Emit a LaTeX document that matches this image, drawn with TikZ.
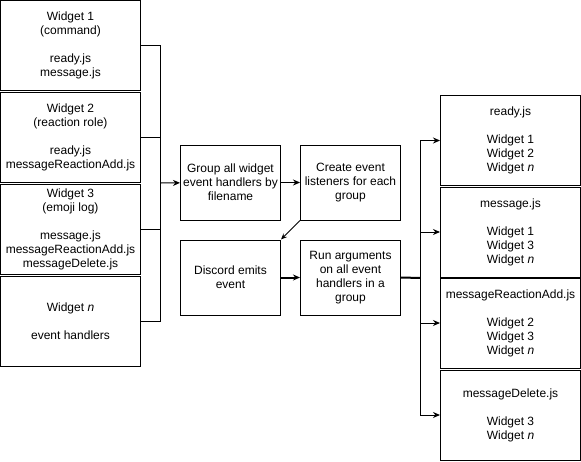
\documentclass[tikz,border=0pt]{standalone}
\usepackage{fontspec}
\setmainfont{Liberation Sans}
\usetikzlibrary{arrows.meta, positioning}

\begin{document}
\begin{tikzpicture}[
    x=1pt, y=-1pt,
    block/.style={rectangle, draw=black, line width=1pt, minimum width=140pt, minimum height=90pt, inner sep=2pt, font=\fontsize{12}{14}\selectfont, align=center},
    stepbox/.style={block, minimum width=100pt, minimum height=75pt},
    line/.style={line width=1pt, black},
    arrow/.style={->, >={Stealth[length=7pt,width=6pt]}, line width=1pt, black},
    thickarrow/.style={arrow, line width=2pt}
]
\useasboundingbox (0,0) rectangle (581,461);

% Widgets
\node[block] (w1) at (70.5,45.5) {Widget 1\\(command)\\[14pt]ready.js\\message.js};
\node[block] (w2) at (70.5,137.5) {Widget 2\\(reaction role)\\[14pt]ready.js\\messageReactionAdd.js};
\node[block] (w3) at (70.5,229) {Widget 3\\(emoji log)\\[14pt]message.js\\messageReactionAdd.js\\messageDelete.js};
\node[block] (wn) at (70.5,321) {Widget \textit{n}\\[14pt]event handlers};

% Steps
\node[stepbox] (group) at (230.5,182.5) {Group all widget\\event handlers by\\filename};
\node[stepbox] (listen) at (350.5,182.5) {Create event\\listeners for each\\group};
\node[stepbox] (emit) at (230.5,277.5) {Discord emits\\event};
\node[stepbox] (run) at (350.5,277.5) {Run arguments\\on all event\\handlers in a\\group};

% Event files
\node[block] (ready) at (510.5,140.5) {ready.js\\[14pt]Widget 1\\Widget 2\\Widget \textit{n}};
\node[block] (msg) at (510.5,232) {message.js\\[14pt]Widget 1\\Widget 3\\Widget \textit{n}};
\node[block] (react) at (510.5,323) {messageReactionAdd.js\\[14pt]Widget 2\\Widget 3\\Widget \textit{n}};
\node[block] (del) at (510.5,415) {messageDelete.js\\[14pt]Widget 3\\Widget \textit{n}};

\coordinate (join) at (160.5,183);
\coordinate (fork) at (420.5,278);

% Arrows
\draw[line] (w1.east) -| (join);
\draw[line] (w2.east) -| (join);
\draw[line] (w3.east) -| (join);
\draw[line] (wn.east) -| (join);
\draw[arrow] (join) -- (group);
\draw[arrow] (group) -- (listen);
\draw[arrow, >={Stealth[length=6pt,width=5pt]}] (listen.south west) -- (emit.north east);
\draw[thickarrow] (emit) -- (run);
\draw[line width=2pt] (run.east) -- (fork);
\draw[arrow] (fork) |- (ready.west);
\draw[arrow] (fork) |- (msg.west);
\draw[arrow] (fork) |- (react.west);
\draw[arrow] (fork) |- (del.west);
\end{tikzpicture}
\end{document}
